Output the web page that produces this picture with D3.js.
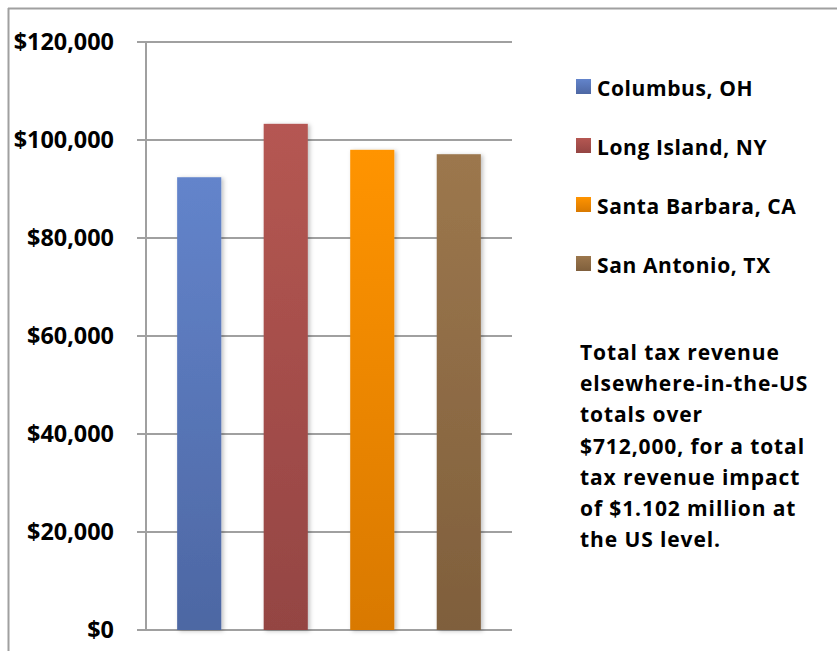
<!DOCTYPE html>
<html><head><meta charset="utf-8">
<script src="https://cdn.jsdelivr.net/npm/d3@7"></script>
<style>body{margin:0;background:#fff}svg{display:block}text{font-family:"Open Sans","Liberation Sans",sans-serif;font-weight:bold;fill:#000}</style>
</head><body><svg id="c" width="837" height="651"></svg>
<script>
const categories = ["Columbus, OH","Long Island, NY","Santa Barbara, CA","San Antonio, TX"];
const values = [92400, 103300, 98000, 97100];
const topColors = ["#6384CB","#B55752","#FF9400","#9C774D"];
const bottomColors = ["#4D67A3","#944543","#D97900","#7F5F3C"];
const tickValues = [0,20000,40000,60000,80000,100000,120000];
const note = ["Total tax revenue","elsewhere-in-the-US","totals over","$712,000, for a total","tax revenue impact","of $1.102 million at","the US level."];

const svg = d3.select("#c");
const defs = svg.append("defs");
categories.forEach((c,i)=>{
  const g = defs.append("linearGradient").attr("id","g"+i).attr("x1",0).attr("y1",0).attr("x2",0).attr("y2",1);
  g.append("stop").attr("offset","0%").attr("stop-color",topColors[i]);
  g.append("stop").attr("offset","100%").attr("stop-color",bottomColors[i]);
});
const f = defs.append("filter").attr("id","sh").attr("x","-20%").attr("y","-10%").attr("width","150%").attr("height","120%");
f.append("feDropShadow").attr("dx",2).attr("dy",1).attr("stdDeviation",2).attr("flood-color","#000").attr("flood-opacity",0.25);

svg.append("line").attr("x1",8).attr("x2",837).attr("y1",8.5).attr("y2",8.5).attr("stroke","#A0A0A0").attr("stroke-width",2);
svg.append("line").attr("x1",8.5).attr("x2",8.5).attr("y1",8).attr("y2",651).attr("stroke","#A0A0A0").attr("stroke-width",2);

const y = d3.scaleLinear().domain([0,120000]).range([630,42]);
const x = d3.scaleBand().domain(categories).range([146,512]).paddingInner(0.49).paddingOuter(0.36);

svg.append("g").selectAll("line").data(tickValues).join("line")
  .attr("x1",137).attr("x2",512).attr("y1",d=>y(d)).attr("y2",d=>y(d))
  .attr("stroke","#A0A0A0").attr("stroke-width",2);
svg.append("line").attr("x1",146).attr("x2",146).attr("y1",y(120000)).attr("y2",y(0)).attr("stroke","#A0A0A0").attr("stroke-width",2);

const fmt = d3.format(",");
svg.append("g").selectAll("text").data(tickValues).join("text")
  .attr("x",114).attr("y",d=>y(d)+8).attr("text-anchor","end")
  .style("font-size","23.4px").text(d=>"$"+fmt(d));

svg.append("g").selectAll("rect").data(values).join("rect")
  .attr("x",(d,i)=>x(categories[i])).attr("width",x.bandwidth())
  .attr("y",d=>y(d)).attr("height",d=>y(0)-y(d))
  .attr("fill",(d,i)=>"url(#g"+i+")").attr("filter","url(#sh)");

const lg = svg.append("g").selectAll("g").data(categories).join("g")
  .attr("transform",(d,i)=>`translate(576,${79+i*59})`);
lg.append("rect").attr("width",15).attr("height",15).attr("fill",(d,i)=>"url(#g"+i+")");
lg.append("text").attr("x",21).attr("y",17).style("font-size","21px").style("letter-spacing","0.6px").text(d=>d);

svg.append("g").selectAll("text").data(note).join("text")
  .attr("x",580).attr("y",(d,i)=>360+i*31.2).style("font-size","21px").style("letter-spacing","0.9px").text(d=>d);
</script></body></html>
